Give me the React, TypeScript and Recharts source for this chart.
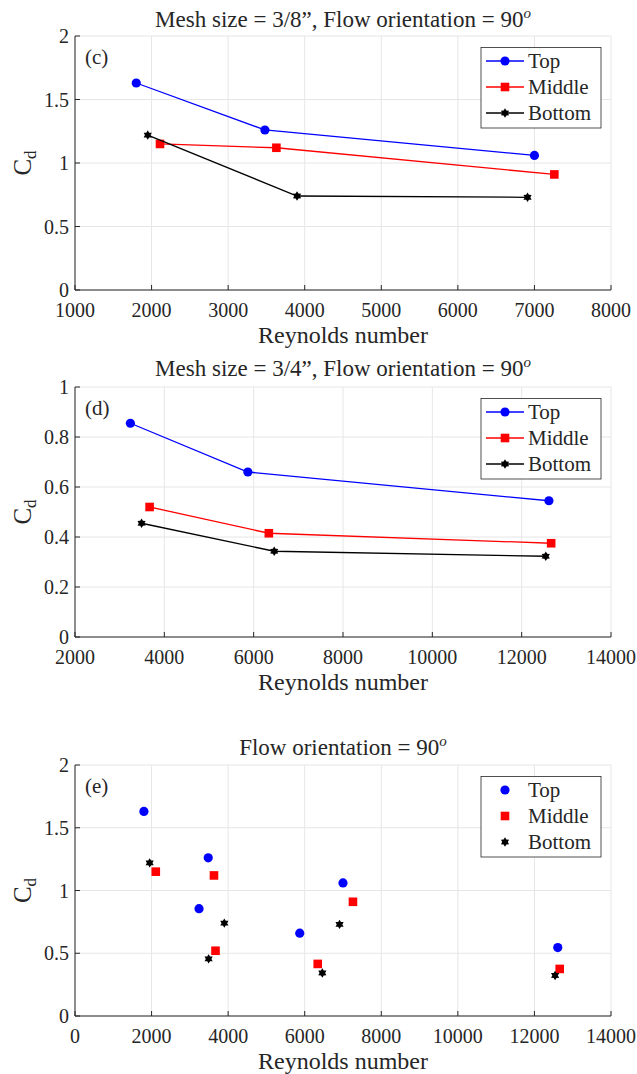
import React from 'react';
import { ScatterChart, Scatter, XAxis, YAxis, CartesianGrid } from 'recharts';

// series
const seriesNames = ['Top', 'Middle', 'Bottom'];
const seriesColors = ['#0000ff', '#ff0000', '#000000'];

// mesh 3/8" (c)
const smallTop = [{ re: 1800, cd: 1.63 }, { re: 3480, cd: 1.26 }, { re: 7000, cd: 1.06 }];
const smallMiddle = [{ re: 2110, cd: 1.15 }, { re: 3630, cd: 1.12 }, { re: 7260, cd: 0.91 }];
const smallBottom = [{ re: 1950, cd: 1.22 }, { re: 3900, cd: 0.74 }, { re: 6910, cd: 0.73 }];

// mesh 3/4" (d)
const largeTop = [{ re: 3240, cd: 0.855 }, { re: 5870, cd: 0.66 }, { re: 12610, cd: 0.545 }];
const largeMiddle = [{ re: 3670, cd: 0.52 }, { re: 6340, cd: 0.415 }, { re: 12660, cd: 0.375 }];
const largeBottom = [{ re: 3490, cd: 0.455 }, { re: 6460, cd: 0.343 }, { re: 12540, cd: 0.323 }];

// ticks
const xTicksC = [1000, 2000, 3000, 4000, 5000, 6000, 7000, 8000];
const xTicksD = [2000, 4000, 6000, 8000, 10000, 12000, 14000];
const xTicksE = [0, 2000, 4000, 6000, 8000, 10000, 12000, 14000];
const yTicksC = [0, 0.5, 1, 1.5, 2];
const yTicksD = [0, 0.2, 0.4, 0.6, 0.8, 1];

const FONT = "'Liberation Serif', 'DejaVu Serif', serif";
const AXIS = '#262626';
const GRID = '#e6e6e6';
const W = 637;
const PLOT_LEFT = 75;
const PLOT_RIGHT = 611;
const X_AXIS_H = 58;

const Marker = ({ kind, cx, cy, color }: { kind: number; cx: number; cy: number; color: string }) => {
  if (kind === 0) return <circle cx={cx} cy={cy} r={4.6} fill={color} />;
  if (kind === 1) return <rect x={cx - 4.3} y={cy - 4.3} width={8.6} height={8.6} fill={color} />;
  // hexagram
  const pts: string[] = [];
  for (let i = 0; i < 12; i++) {
    const r = i % 2 === 0 ? 4.7 : 2.8;
    const a = Math.PI / 2 + (i * Math.PI) / 6;
    pts.push(`${cx + r * Math.cos(a)},${cy - r * Math.sin(a)}`);
  }
  return <polygon points={pts.join(' ')} fill={color} />;
};

interface PanelProps {
  top: number;
  plotTop: number;
  plotHeight: number;
  titleY: number;
  title: string;
  letter: string;
  series: { re: number; cd: number }[][];
  xTicks: number[];
  yTicks: number[];
  lines: boolean;
}

const Panel: React.FC<PanelProps> = ({ top, plotTop, plotHeight, titleY, title, letter, series, xTicks, yTicks, lines }) => {
  const height = plotTop + plotHeight + X_AXIS_H;
  const midX = (PLOT_LEFT + PLOT_RIGHT) / 2;
  const midY = plotTop + plotHeight / 2;
  const plotBottom = plotTop + plotHeight;
  const xDomain = [xTicks[0], xTicks[xTicks.length - 1]];
  const yDomain = [yTicks[0], yTicks[yTicks.length - 1]];
  const tickStyle = { fill: AXIS, fontSize: 20, fontFamily: FONT };
  const legTop = plotTop + 11.5;

  return (
    <div style={{ position: 'absolute', left: 0, top, width: W, height, fontFamily: FONT }}>
      <ScatterChart
        width={W}
        height={height}
        style={{ fontFamily: FONT }}
        margin={{ top: plotTop, right: W - PLOT_RIGHT, bottom: 0, left: 0 }}
      >
        <CartesianGrid stroke={GRID} strokeWidth={1} />
        <XAxis
          type="number"
          dataKey="re"
          domain={xDomain}
          ticks={xTicks}
          interval={0}
          allowDataOverflow
          height={X_AXIS_H}
          tick={tickStyle}
          tickSize={-5}
          tickMargin={18}
          stroke={AXIS}
        />
        <XAxis
          xAxisId="top"
          orientation="top"
          type="number"
          dataKey="re"
          domain={xDomain}
          ticks={xTicks}
          interval={0}
          allowDataOverflow
          height={0}
          tick={false}
          tickSize={-5}
          stroke={AXIS}
        />
        <YAxis
          type="number"
          dataKey="cd"
          domain={yDomain}
          ticks={yTicks}
          interval={0}
          allowDataOverflow
          width={PLOT_LEFT}
          tick={tickStyle}
          tickSize={-5}
          tickMargin={11}
          stroke={AXIS}
        />
        <YAxis
          yAxisId="right"
          orientation="right"
          type="number"
          dataKey="cd"
          domain={yDomain}
          ticks={yTicks}
          interval={0}
          allowDataOverflow
          width={0}
          tick={false}
          tickSize={-5}
          stroke={AXIS}
        />
        {series.map((d, i) => (
          <Scatter
            key={seriesNames[i]}
            name={seriesNames[i]}
            data={d}
            fill={seriesColors[i]}
            line={lines ? { stroke: seriesColors[i], strokeWidth: 1.3 } : false}
            shape={(p: any) => <Marker kind={i} cx={p.cx} cy={p.cy} color={seriesColors[i]} />}
            isAnimationActive={false}
          />
        ))}
      </ScatterChart>
      <svg
        width={W}
        height={height}
        style={{ position: 'absolute', left: 0, top: 0, pointerEvents: 'none', fontFamily: FONT }}
        fill={AXIS}
      >
        <text x={midX} y={titleY + 8} textAnchor="middle" fontSize={23}>
          {title}
          <tspan dy={-9} fontSize={15} fontStyle="italic">o</tspan>
        </text>
        <text x={85} y={plotTop + 28} fontSize={21}>{letter}</text>
        <text x={midX} y={plotBottom + 53} textAnchor="middle" fontSize={24}>Reynolds number</text>
        <text x={22} y={midY} textAnchor="middle" fontSize={25} dy="0.35em" transform={`rotate(-90, 22, ${midY})`}>
          C<tspan dy={5} fontSize={17}>d</tspan>
        </text>
        <rect x={481} y={legTop} width={120} height={80.5} fill="#ffffff" stroke={AXIS} strokeWidth={0.8} />
        {seriesNames.map((name, i) => {
          const y = legTop + 13.5 + i * 26;
          return (
            <g key={name}>
              {lines && <line x1={486} x2={524} y1={y} y2={y} stroke={seriesColors[i]} strokeWidth={1.3} />}
              <Marker kind={i} cx={505} cy={y} color={seriesColors[i]} />
              <text x={528} y={y + 7} fontSize={21}>{name}</text>
            </g>
          );
        })}
      </svg>
    </div>
  );
};

export default function App() {
  return (
    <div style={{ position: 'absolute', left: 0, top: 0, width: W, height: 1074, background: '#ffffff', overflow: 'hidden' }}>
      <Panel
        top={0}
        plotTop={36}
        plotHeight={254}
        titleY={19}
        title={'Mesh size = 3/8\u201D, Flow orientation = 90'}
        letter="(c)"
        series={[smallTop, smallMiddle, smallBottom]}
        xTicks={xTicksC}
        yTicks={yTicksC}
        lines
      />
      <Panel
        top={350}
        plotTop={37}
        plotHeight={250}
        titleY={18}
        title={'Mesh size = 3/4\u201D, Flow orientation = 90'}
        letter="(d)"
        series={[largeTop, largeMiddle, largeBottom]}
        xTicks={xTicksD}
        yTicks={yTicksD}
        lines
      />
      <Panel
        top={720}
        plotTop={45}
        plotHeight={251}
        titleY={27}
        title={'Flow orientation = 90'}
        letter="(e)"
        series={[
          [...smallTop, ...largeTop],
          [...smallMiddle, ...largeMiddle],
          [...smallBottom, ...largeBottom],
        ]}
        xTicks={xTicksE}
        yTicks={yTicksC}
        lines={false}
      />
    </div>
  );
}
